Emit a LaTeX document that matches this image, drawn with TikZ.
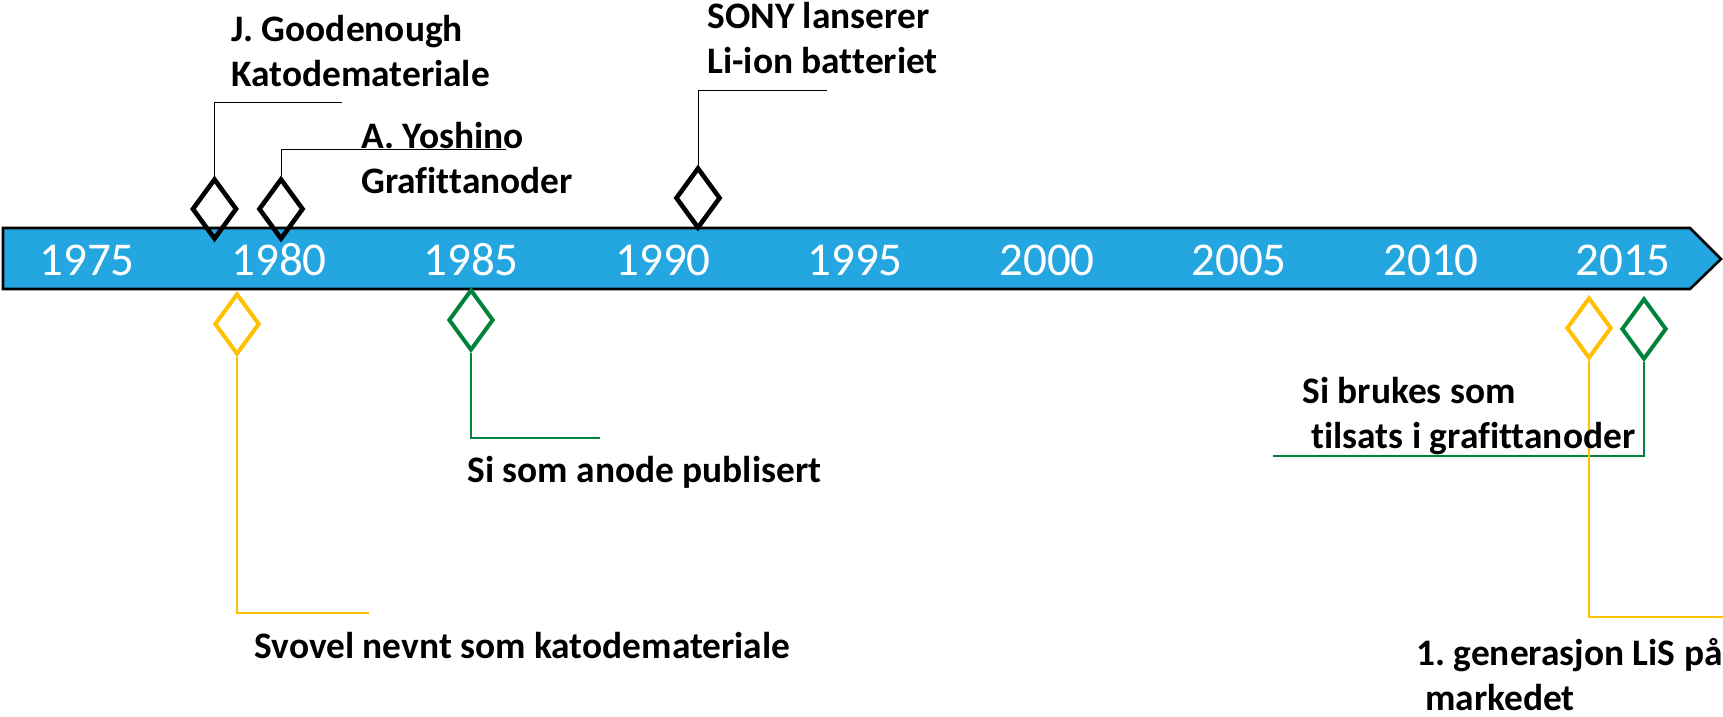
\documentclass[tikz,border=0pt]{standalone}
\usepackage{fontspec}
\setmainfont{Carlito}[Ligatures=CommonOff]
\usetikzlibrary{shapes.geometric}
\definecolor{barblue}{RGB}{36,167,224}
\definecolor{markyellow}{RGB}{255,192,0}
\definecolor{markgreen}{RGB}{0,132,61}
\tikzset{
  % Tidslinje
  timebar/.style   = {fill=barblue, draw=black, line width=1.3pt},
  yearlab/.style   = {text=white, font=\fontsize{23.5}{28}\selectfont, inner sep=0pt, anchor=base},
  % Markører
  markbase/.style  = {diamond, inner sep=0pt, minimum width=22.5pt, minimum height=30.5pt},
  markblack/.style = {markbase, draw=black, line width=2.3pt},
  markyel/.style   = {markbase, draw=markyellow, line width=2pt},
  markgrn/.style   = {markbase, draw=markgreen, line width=2pt},
  % Linjer
  leadblack/.style = {draw=black, line width=0.5pt},
  leadyel/.style   = {draw=markyellow, line width=0.6pt},
  leadgrn/.style   = {draw=markgreen, line width=0.6pt},
  % Etiketter (base = siste linje)
  evlab/.style     = {font=\fontsize{18.7}{22.5}\selectfont\bfseries\frenchspacing, align=left, inner sep=0pt, anchor=base west},
}
\begin{document}
\begin{tikzpicture}[x=0.5pt, y=-0.5pt]
  \useasboundingbox (0,0) rectangle (1723,717);
  % Tidslinje
  \draw[timebar] (3,228) -- (1690,228) -- (1721,259) -- (1690,289) -- (3,289) -- cycle;
  \foreach \yr [count=\i from 0] in {1975,1980,...,2015}
    \node[yearlab] (y\yr) at ({87+192*\i},275) {\yr};
  % Markører over
  \node[markblack] (mgood) at (214.5,209) {};
  \node[markblack] (myosh) at (281,209) {};
  \node[markblack] (msony) at (698,198) {};
  % Markører under
  \node[markyel] (msvovel) at (237,324) {};
  \node[markgrn] (manode) at (471,320) {};
  \node[markyel] (mlis) at (1589,328) {};
  \node[markgrn] (mtilsats) at (1644,329) {};
  % Knekkpunkter
  \coordinate (cgood) at (342,103);
  \coordinate (cyosh) at (506,149);
  \coordinate (csony) at (827,91);
  \coordinate (csvovel) at (369,613);
  \coordinate (canode) at (600,438);
  \coordinate (clis) at (1723,617);
  \coordinate (ctilsats) at (1273,456);
  % Linjer
  \draw[leadblack] (mgood.north) |- (cgood);
  \draw[leadblack] (myosh.north) |- (cyosh);
  \draw[leadblack] (msony.north) |- (csony);
  \draw[leadyel] (msvovel.south) |- (csvovel);
  \draw[leadgrn] (manode.south) |- (canode);
  \draw[leadgrn] (mtilsats.south) |- (ctilsats);
  \draw[leadyel] (mlis.south) |- (clis);
  % Etiketter
  \node[evlab] (lgood) at (231,87) {J. Goodenough\\Katodemateriale};
  \node[evlab] (lyosh) at (361,193) {A. Yoshino\\Grafittanoder};
  \node[evlab] (lsony) at (707,74) {SONY lanserer\\Li-ion batteriet};
  \node[evlab] (lsvovel) at (254,658) {Svovel nevnt som katodemateriale};
  \node[evlab] (lanode) at (467,482) {Si som anode publisert};
  \node[evlab] (ltilsats) at (1302,448) {Si brukes som\\\hspace*{4.5pt}tilsats i grafittanoder};
  \node[evlab] (llis) at (1416,710) {1. generasjon LiS på\\\hspace*{4.5pt}markedet};
\end{tikzpicture}
\end{document}
